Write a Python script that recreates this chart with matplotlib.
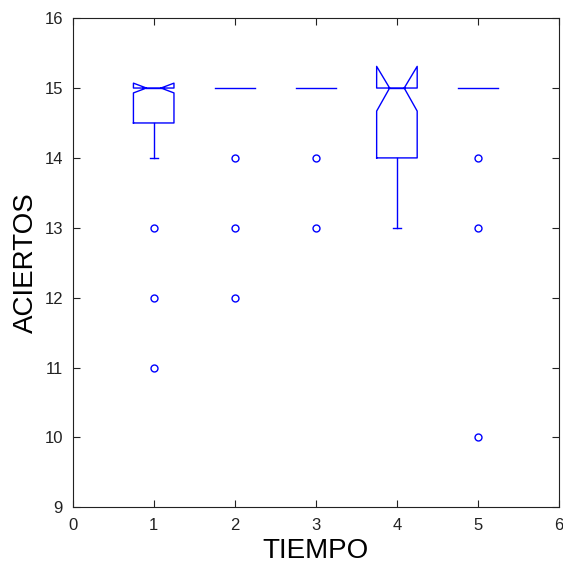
import numpy as np
import matplotlib.pyplot as plt

plt.rcParams['font.family'] = ['Liberation Sans', 'DejaVu Sans']

# per-group stats
pos = [1, 2, 3, 4, 5]
q1 = [14.5, 15, 15, 14, 15]
med = [15, 15, 15, 15, 15]
q3 = [15, 15, 15, 15, 15]
cilo = [14.93, 15, 15, 14.67, 15]
cihi = [15.07, 15, 15, 15.31, 15]
whislo = [14, 15, 15, 13, 15]
whishi = [15, 15, 15, 15, 15]
fliers = [[13, 12, 11], [14, 13, 12], [14, 13], [], [14, 13, 10]]

col = 'blue'
w = 0.5
notch = 0.09  # half-width of the notch at the median

fig = plt.figure(figsize=(5.63, 5.71), dpi=100)
ax = fig.add_axes([0.129, 0.1116, 0.864, 0.8566])

for i, p in enumerate(pos):
    L, R = p - w / 2, p + w / 2
    nl, nr = p - notch, p + notch
    if q1[i] == q3[i]:
        ax.plot([L, R], [med[i], med[i]], color=col, lw=1)
    else:
        bx = [L, R, R, nr, R, R, L, L, nl, L, L]
        by = [q1[i], q1[i], cilo[i], med[i], cihi[i], q3[i], q3[i], cihi[i], med[i], cilo[i], q1[i]]
        ax.plot(bx, by, color=col, lw=1)
        ax.plot([nl, nr], [med[i], med[i]], color=col, lw=1)
    if whislo[i] < q1[i]:
        ax.plot([p, p], [whislo[i], q1[i]], color=col, lw=1)
        ax.plot([p - 0.05, p + 0.05], [whislo[i], whislo[i]], color=col, lw=1)
    if whishi[i] > q3[i]:
        ax.plot([p, p], [q3[i], whishi[i]], color=col, lw=1)
        ax.plot([p - 0.05, p + 0.05], [whishi[i], whishi[i]], color=col, lw=1)
    if fliers[i]:
        ax.plot([p] * len(fliers[i]), fliers[i], 'o', mfc='none', mec=col, ms=5, mew=1)

ax.set_xlim(0, 6)
ax.set_ylim(9, 16)
ax.set_xticks(range(0, 7))
ax.set_yticks(range(9, 17))
ax.tick_params(direction='in', length=5, top=True, right=True, labelsize=12, colors='#222222')
ax.tick_params(axis='x', pad=8)
ax.tick_params(axis='y', pad=7)
for s in ax.spines.values():
    s.set_color('#222222')
ax.set_xlabel('TIEMPO', fontsize=20, labelpad=3)
ax.set_ylabel('ACIERTOS', fontsize=20, labelpad=4)

fig.savefig('out.png', dpi=100)
